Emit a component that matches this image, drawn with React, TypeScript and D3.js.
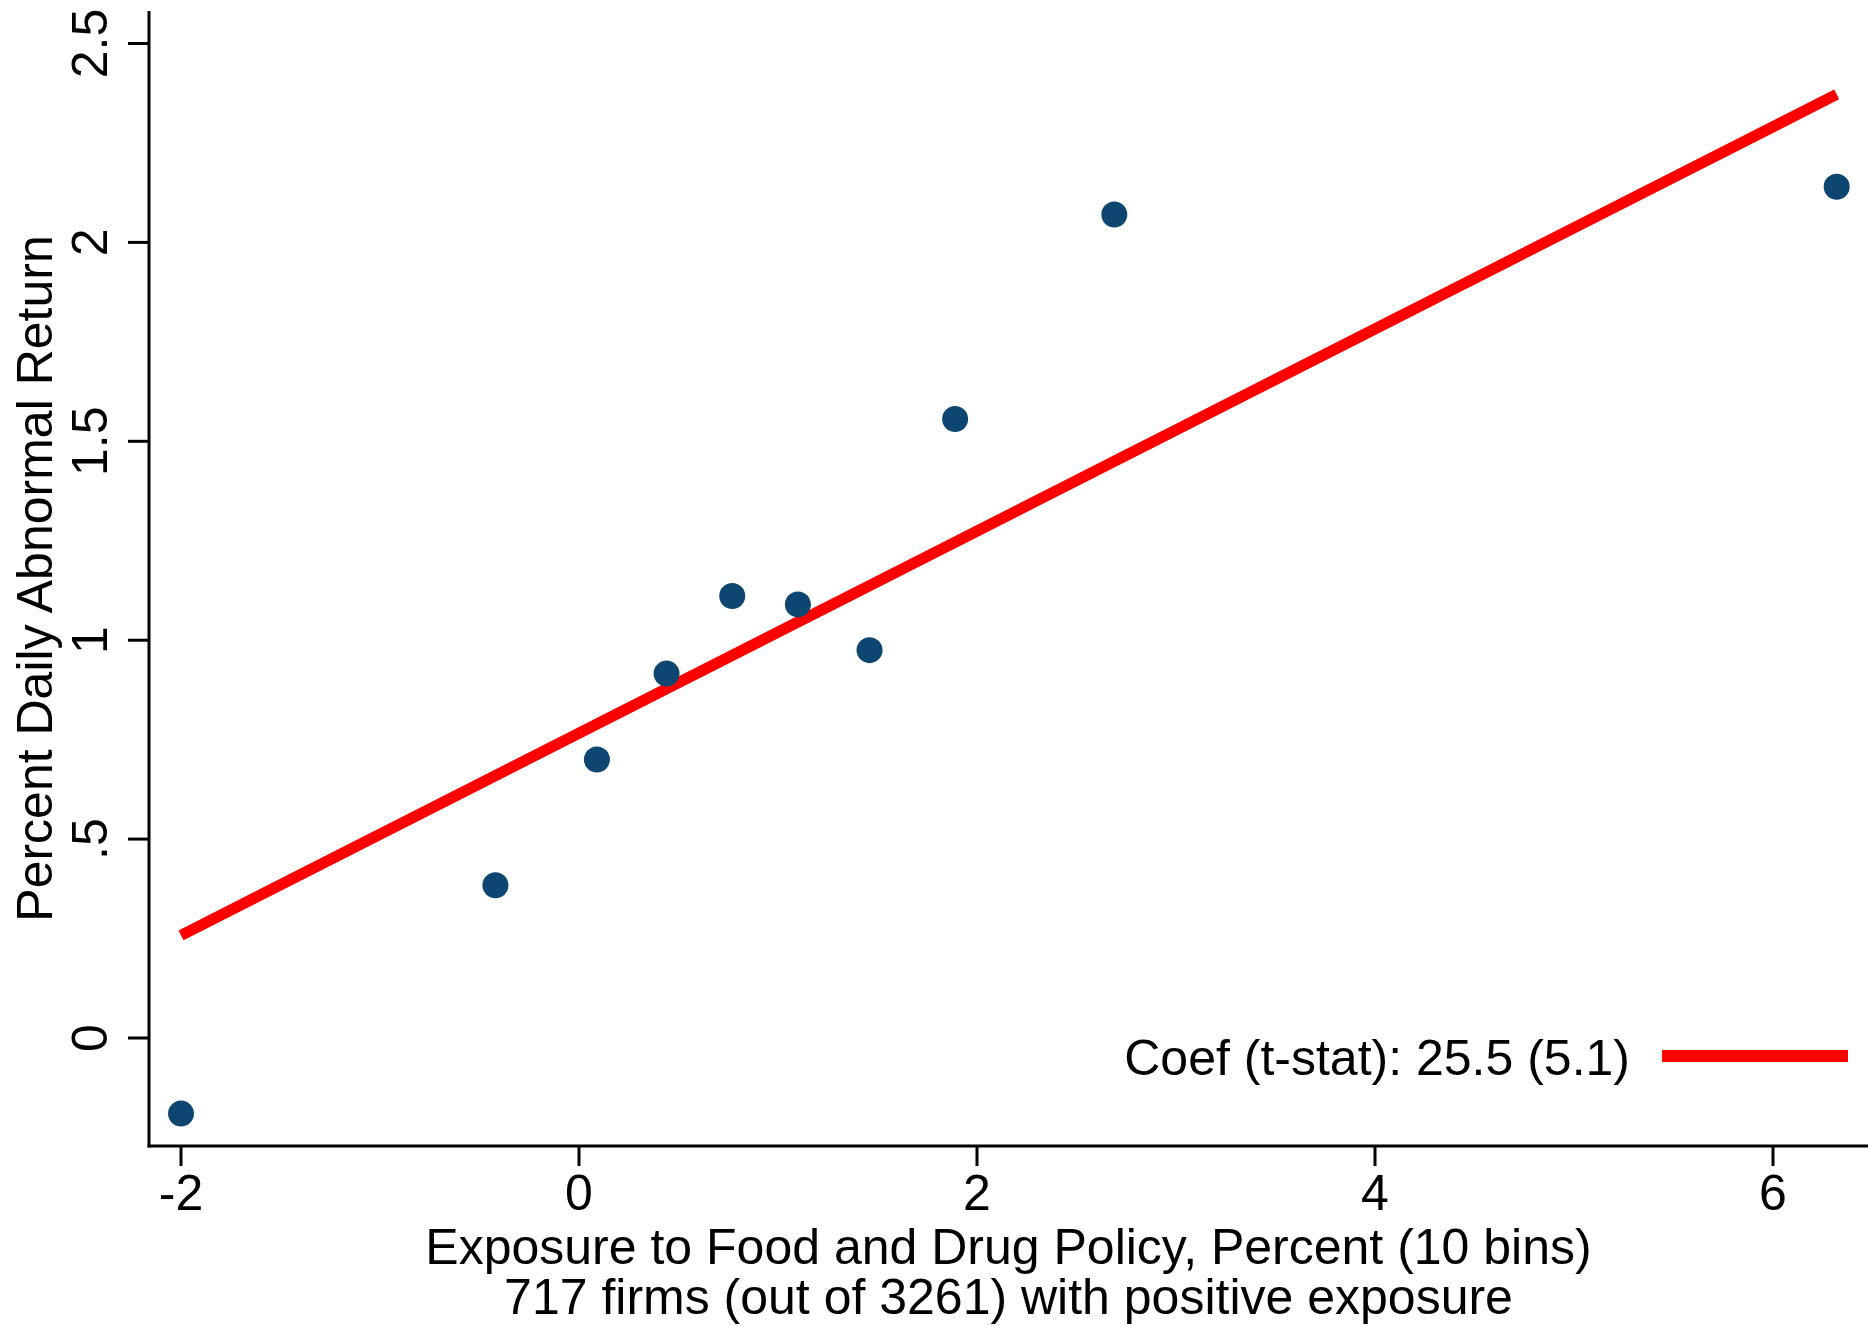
import { useEffect, useRef } from 'react';
import * as d3 from 'd3';

// Binned scatter: exposure (x) vs percent daily abnormal return (y)
const binX = [-2.0, -0.42, 0.09, 0.44, 0.77, 1.1, 1.46, 1.89, 2.69, 6.32];
const binY = [-0.19, 0.384, 0.7, 0.916, 1.111, 1.09, 0.975, 1.556, 2.07, 2.14];

// fitted line endpoints
const fitX = [-2.0, 6.32];
const fitY = [0.258, 2.372];

const xTicks = [-2, 0, 2, 4, 6];
const yTicks = [0, 0.5, 1, 1.5, 2, 2.5];
const yTickLabels = ['0', '.5', '1', '1.5', '2', '2.5'];

const xTitle = 'Exposure to Food and Drug Policy, Percent (10 bins)';
const xSubtitle = '717 firms (out of 3261) with positive exposure';
const yTitle = 'Percent Daily Abnormal Return';
const legendLabel = 'Coef (t-stat): 25.5 (5.1)';

const WIDTH = 1868;
const HEIGHT = 1326;
const FONT = '"Liberation Sans", Arial, Helvetica, sans-serif';
const NAVY = '#0d4670';
const RED = '#ff0000';

export default function App() {
  const ref = useRef<SVGSVGElement>(null);

  useEffect(() => {
    if (!ref.current) return;
    const svg = d3.select(ref.current);
    svg.selectAll('*').remove();

    const x = d3.scaleLinear().domain([-2, 6]).range([181, 1773]);
    const y = d3.scaleLinear().domain([0, 2.5]).range([1038, 43.5]);

    const axisLeft = 149;
    const axisBottom = 1146;
    const axisTop = 11;
    const fontSize = 50;

    svg.append('rect')
      .attr('width', WIDTH)
      .attr('height', HEIGHT)
      .attr('fill', '#ffffff');

    // axes lines
    svg.append('line')
      .attr('x1', axisLeft).attr('x2', axisLeft)
      .attr('y1', axisTop).attr('y2', axisBottom + 1.5)
      .attr('stroke', '#000').attr('stroke-width', 3);
    svg.append('line')
      .attr('x1', axisLeft - 1.5).attr('x2', WIDTH)
      .attr('y1', axisBottom).attr('y2', axisBottom)
      .attr('stroke', '#000').attr('stroke-width', 3);

    // y ticks
    const yg = svg.append('g');
    yTicks.forEach((t, i) => {
      yg.append('line')
        .attr('x1', axisLeft - 21).attr('x2', axisLeft)
        .attr('y1', y(t)).attr('y2', y(t))
        .attr('stroke', '#000').attr('stroke-width', 3);
      yg.append('text')
        .attr('transform', `translate(107,${y(t)}) rotate(-90)`)
        .attr('text-anchor', 'middle')
        .style('font-family', FONT)
        .style('font-size', `${fontSize}px`)
        .text(yTickLabels[i]);
    });

    // x ticks
    const xg = svg.append('g');
    xTicks.forEach((t) => {
      xg.append('line')
        .attr('x1', x(t)).attr('x2', x(t))
        .attr('y1', axisBottom).attr('y2', axisBottom + 20)
        .attr('stroke', '#000').attr('stroke-width', 3);
      xg.append('text')
        .attr('x', x(t))
        .attr('y', 1210)
        .attr('text-anchor', 'middle')
        .style('font-family', FONT)
        .style('font-size', `${fontSize}px`)
        .text(String(t));
    });

    // titles
    const cx = (axisLeft + WIDTH) / 2;
    svg.append('text')
      .attr('x', cx).attr('y', 1264)
      .attr('text-anchor', 'middle')
      .style('font-family', FONT)
      .style('font-size', `${fontSize}px`)
      .text(xTitle);
    svg.append('text')
      .attr('x', cx).attr('y', 1314)
      .attr('text-anchor', 'middle')
      .style('font-family', FONT)
      .style('font-size', `${fontSize}px`)
      .text(xSubtitle);
    svg.append('text')
      .attr('transform', `translate(52,${(axisTop + axisBottom) / 2}) rotate(-90)`)
      .attr('text-anchor', 'middle')
      .style('font-family', FONT)
      .style('font-size', `${fontSize}px`)
      .text(yTitle);

    // fit line
    const line = d3.line<number>()
      .x((d) => x(d))
      .y((_, i) => y(fitY[i]));
    svg.append('path')
      .attr('d', line(fitX))
      .attr('fill', 'none')
      .attr('stroke', RED)
      .attr('stroke-width', 11);

    // points
    svg.append('g')
      .selectAll('circle')
      .data(binX)
      .join('circle')
      .attr('cx', (d) => x(d))
      .attr('cy', (_, i) => y(binY[i]))
      .attr('r', 13)
      .attr('fill', NAVY);

    // legend
    svg.append('text')
      .attr('x', 1630).attr('y', 1075)
      .attr('text-anchor', 'end')
      .style('font-family', FONT)
      .style('font-size', `${fontSize}px`)
      .text(legendLabel);
    svg.append('line')
      .attr('x1', 1662).attr('x2', 1848)
      .attr('y1', 1056).attr('y2', 1056)
      .attr('stroke', RED)
      .attr('stroke-width', 12);
  }, []);

  return (
    <svg
      ref={ref}
      width={WIDTH}
      height={HEIGHT}
      style={{ position: 'absolute', left: 0, top: 0, display: 'block' }}
    />
  );
}
